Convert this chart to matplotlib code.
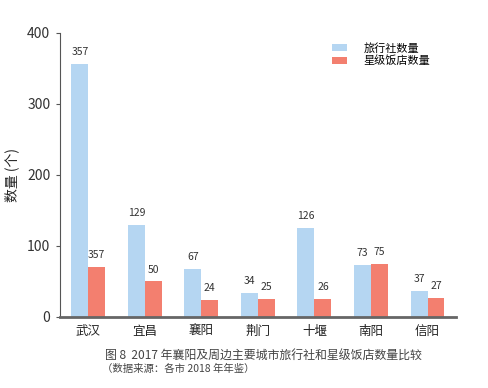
import matplotlib
matplotlib.use('Agg')
from matplotlib import pyplot as plt
import numpy as np

plt.rcParams['font.family'] = ['Noto Sans CJK SC', 'DejaVu Sans']

cities = ['武汉', '宜昌', '襄阳', '荆门', '十堰', '南阳', '信阳']
agencies = [357, 129, 67, 34, 126, 73, 37]
hotels = [71, 50, 24, 25, 26, 75, 27]
agency_labels = ['357', '129', '67', '34', '126', '73', '37']
hotel_labels = ['357', '50', '24', '25', '26', '75', '27']

blue = '#B5D6F2'
red = '#F37F6F'
axis_col = '#555555'
text_col = '#333333'

fig = plt.figure(figsize=(4.88, 3.88), dpi=100)
ax = fig.add_axes([0.123, 0.183, 0.811, 0.732])

x = np.arange(len(cities))
w = 0.3
b1 = ax.bar(x - w/2, agencies, w, color=blue, label='旅行社数量')
b2 = ax.bar(x + w/2, hotels, w, color=red, label='星级饭店数量')

for rect, lab in zip(b1, agency_labels):
    ax.annotate(lab, (rect.get_x() + rect.get_width()/2, rect.get_height()),
                xytext=(0, 5), textcoords='offset points', ha='center', va='bottom',
                fontsize=7.5, color=text_col)
for rect, lab in zip(b2, hotel_labels):
    ax.annotate(lab, (rect.get_x() + rect.get_width()/2, rect.get_height()),
                xytext=(0, 5), textcoords='offset points', ha='center', va='bottom',
                fontsize=7.5, color=text_col)

ax.set_xlim(-0.5, 6.5)
ax.set_ylim(0, 400)
ax.set_yticks([0, 100, 200, 300, 400])
ax.set_xticks(x)
ax.set_xticklabels(cities, fontsize=9, color='#222222')
ax.tick_params(axis='x', length=0, pad=6)
ax.tick_params(axis='y', length=3, width=0.8, color=axis_col, labelsize=10, labelcolor='#333333', pad=4)
ax.spines['top'].set_visible(False)
ax.spines['right'].set_visible(False)
ax.spines['left'].set_color(axis_col)
ax.spines['left'].set_linewidth(0.8)
ax.spines['bottom'].set_color('#666666')
ax.spines['bottom'].set_linewidth(2)
ax.set_ylabel('数量 (个)', fontsize=10, color='#222222', labelpad=6)

ax.legend(loc='upper right', bbox_to_anchor=(0.96, 1.0), frameon=False, fontsize=8,
          handlelength=1.3, handleheight=0.6, handletextpad=1.5, labelspacing=0.15)

fig.text(0.215, 0.082, '图 8  2017 年襄阳及周边主要城市旅行社和星级饭店数量比较',
         fontsize=8.6, color='#444444', ha='left', va='center')
fig.text(0.208, 0.048, '（数据来源：各市 2018 年年鉴）',
         fontsize=7.5, color='#444444', ha='left', va='center')

fig.savefig('out.png', dpi=100)
